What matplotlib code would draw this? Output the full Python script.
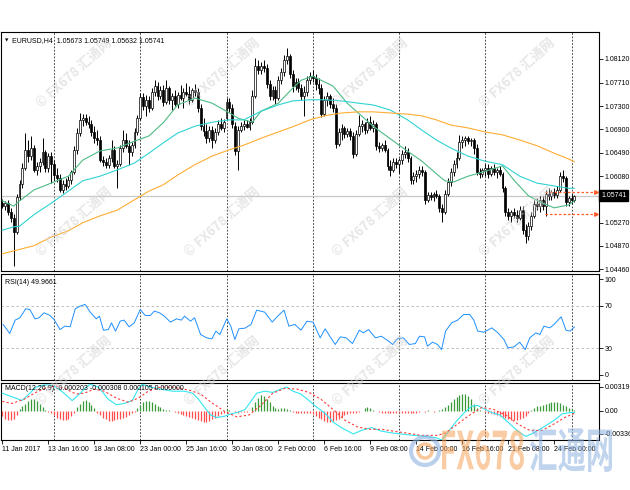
import matplotlib
matplotlib.use('Agg')
import numpy as np
import matplotlib.pyplot as plt
import matplotlib.transforms as mtransforms
from matplotlib.textpath import TextPath
from matplotlib.patches import PathPatch, Circle
from matplotlib.font_manager import FontProperties

plt.rcParams['font.family'] = ['Liberation Sans', 'DejaVu Sans']

# ---------------- data ----------------
opens = [
1.0561,1.0556,1.0561,1.0546,1.0535,1.0511,1.0572,1.0594,1.0622,1.0654,
1.0643,1.0657,1.0619,1.0626,1.0633,1.0650,1.0622,1.0643,1.0629,1.0610,
1.0605,1.0584,1.0594,1.0591,1.0601,1.0615,1.0654,1.0683,1.0706,1.0709,
1.0702,1.0699,1.0685,1.0674,1.0671,1.0636,1.0633,1.0628,1.0640,1.0654,
1.0626,1.0629,1.0657,1.0671,1.0661,1.0650,1.0662,1.0685,1.0709,1.0746,
1.0730,1.0741,1.0727,1.0755,1.0765,1.0748,1.0758,1.0737,1.0761,1.0741,
1.0748,1.0734,1.0749,1.0744,1.0755,1.0751,1.0741,1.0758,1.0755,1.0727,
1.0695,1.0687,1.0674,1.0688,1.0671,1.0685,1.0699,1.0692,1.0709,1.0737,
1.0727,1.0695,1.0652,1.0688,1.0695,1.0699,1.0694,1.0702,1.0748,1.0800,
1.0793,1.0800,1.0796,1.0768,1.0748,1.0758,1.0744,1.0775,1.0789,1.0810,
1.0817,1.0786,1.0765,1.0772,1.0761,1.0748,1.0755,1.0775,1.0782,1.0779,
1.0768,1.0761,1.0716,1.0741,1.0748,1.0734,1.0727,1.0664,1.0685,1.0692,
1.0681,1.0687,1.0678,1.0647,1.0681,1.0695,1.0699,1.0688,1.0702,1.0692,
1.0699,1.0661,1.0657,1.0662,1.0654,1.0626,1.0619,1.0633,1.0629,1.0636,
1.0647,1.0650,1.0640,1.0601,1.0608,1.0612,1.0619,1.0615,1.0567,1.0575,
1.0572,1.0577,1.0574,1.0553,1.0546,1.0577,1.0598,1.0615,1.0629,1.0640,
1.0668,1.0671,1.0674,1.0669,1.0671,1.0657,1.0615,1.0612,1.0619,1.0622,
1.0612,1.0622,1.0615,1.0619,1.0612,1.0587,1.0546,1.0539,1.0546,1.0541,
1.0535,1.0549,1.0514,1.0504,1.0521,1.0539,1.0560,1.0556,1.0567,1.0556,
1.0577,1.0574,1.0581,1.0575,1.0584,1.0608,1.0605,1.0563,1.0570,1.05673]
highs = [
1.0568,1.0565,1.0567,1.0553,1.0542,1.0577,1.0601,1.0631,1.0683,1.0671,
1.0678,1.0662,1.0633,1.0640,1.0674,1.0654,1.0648,1.0650,1.0636,1.0622,
1.0612,1.0601,1.0605,1.0608,1.0619,1.0661,1.0692,1.0718,1.0716,1.0716,
1.0713,1.0706,1.0695,1.0688,1.0678,1.0643,1.0640,1.0645,1.0671,1.0661,
1.0636,1.0662,1.0688,1.0683,1.0671,1.0668,1.0692,1.0714,1.0753,1.0753,
1.0749,1.0748,1.0761,1.0775,1.0772,1.0765,1.0767,1.0775,1.0765,1.0753,
1.0758,1.0755,1.0767,1.0761,1.0770,1.0765,1.0761,1.0768,1.0761,1.0734,
1.0709,1.0699,1.0695,1.0695,1.0692,1.0706,1.0709,1.0708,1.0744,1.0744,
1.0734,1.0702,1.0695,1.0702,1.0706,1.0706,1.0709,1.0758,1.0814,1.0810,
1.0807,1.0810,1.0803,1.0775,1.0765,1.0765,1.0782,1.0796,1.0819,1.0831,
1.0821,1.0793,1.0779,1.0779,1.0768,1.0765,1.0782,1.0789,1.0793,1.0786,
1.0779,1.0768,1.0748,1.0755,1.0751,1.0744,1.0734,1.0692,1.0699,1.0695,
1.0692,1.0692,1.0685,1.0688,1.0714,1.0706,1.0702,1.0709,1.0713,1.0706,
1.0702,1.0668,1.0666,1.0671,1.0657,1.0636,1.0640,1.0640,1.0640,1.0654,
1.0661,1.0657,1.0643,1.0615,1.0619,1.0626,1.0626,1.0619,1.0581,1.0581,
1.0581,1.0584,1.0577,1.0560,1.0584,1.0605,1.0622,1.0636,1.0650,1.0680,
1.0678,1.0678,1.0678,1.0674,1.0674,1.0664,1.0622,1.0622,1.0629,1.0629,
1.0626,1.0629,1.0622,1.0626,1.0615,1.0591,1.0553,1.0549,1.0553,1.0549,
1.0556,1.0556,1.0525,1.0528,1.0546,1.0567,1.0570,1.0574,1.0574,1.0584,
1.0587,1.0584,1.0587,1.0591,1.0615,1.0619,1.0608,1.0574,1.0577,1.05749]
lows = [
1.0553,1.0549,1.0541,1.0528,1.0452,1.0507,1.0567,1.0587,1.0619,1.0633,
1.0636,1.0615,1.0610,1.0615,1.0628,1.0615,1.0615,1.0596,1.0601,1.0598,
1.0581,1.0579,1.0584,1.0587,1.0594,1.0612,1.0647,1.0678,1.0695,1.0697,
1.0692,1.0678,1.0666,1.0662,1.0633,1.0626,1.0622,1.0622,1.0633,1.0622,
1.0587,1.0626,1.0650,1.0657,1.0628,1.0643,1.0657,1.0680,1.0706,1.0723,
1.0713,1.0720,1.0723,1.0748,1.0741,1.0742,1.0730,1.0734,1.0734,1.0723,
1.0730,1.0727,1.0741,1.0727,1.0748,1.0734,1.0737,1.0748,1.0720,1.0688,
1.0678,1.0666,1.0668,1.0657,1.0666,1.0680,1.0688,1.0685,1.0706,1.0720,
1.0692,1.0645,1.0619,1.0685,1.0688,1.0692,1.0688,1.0699,1.0744,1.0786,
1.0786,1.0789,1.0761,1.0741,1.0741,1.0734,1.0741,1.0768,1.0782,1.0803,
1.0779,1.0755,1.0758,1.0755,1.0741,1.0713,1.0748,1.0768,1.0772,1.0758,
1.0751,1.0711,1.0713,1.0730,1.0727,1.0720,1.0657,1.0661,1.0671,1.0674,
1.0676,1.0671,1.0640,1.0643,1.0678,1.0685,1.0681,1.0683,1.0688,1.0685,
1.0654,1.0650,1.0652,1.0650,1.0619,1.0608,1.0615,1.0622,1.0614,1.0629,
1.0640,1.0633,1.0594,1.0594,1.0598,1.0605,1.0608,1.0560,1.0563,1.0567,
1.0565,1.0570,1.0546,1.0528,1.0542,1.0574,1.0591,1.0608,1.0622,1.0636,
1.0657,1.0661,1.0664,1.0661,1.0647,1.0610,1.0605,1.0607,1.0608,1.0605,
1.0608,1.0610,1.0605,1.0608,1.0581,1.0539,1.0532,1.0528,1.0535,1.0528,
1.0532,1.0507,1.0492,1.0497,1.0514,1.0535,1.0549,1.0546,1.0549,1.0539,
1.0567,1.0567,1.0570,1.0570,1.0581,1.0598,1.0556,1.0556,1.0560,1.05632]
closes = [
1.0556,1.0561,1.0546,1.0535,1.0511,1.0572,1.0594,1.0622,1.0654,1.0643,
1.0657,1.0619,1.0626,1.0633,1.0650,1.0622,1.0643,1.0629,1.0610,1.0605,
1.0584,1.0594,1.0591,1.0601,1.0615,1.0654,1.0683,1.0706,1.0709,1.0702,
1.0699,1.0685,1.0674,1.0671,1.0636,1.0633,1.0628,1.0640,1.0654,1.0626,
1.0629,1.0657,1.0671,1.0661,1.0650,1.0662,1.0685,1.0709,1.0746,1.0730,
1.0741,1.0727,1.0755,1.0765,1.0748,1.0758,1.0737,1.0761,1.0741,1.0748,
1.0734,1.0749,1.0744,1.0755,1.0751,1.0741,1.0758,1.0755,1.0727,1.0695,
1.0687,1.0674,1.0688,1.0671,1.0685,1.0699,1.0692,1.0702,1.0737,1.0727,
1.0699,1.0652,1.0688,1.0695,1.0699,1.0694,1.0702,1.0748,1.0800,1.0793,
1.0800,1.0796,1.0768,1.0748,1.0758,1.0744,1.0775,1.0789,1.0810,1.0817,
1.0786,1.0765,1.0772,1.0761,1.0748,1.0755,1.0775,1.0782,1.0779,1.0768,
1.0761,1.0716,1.0741,1.0748,1.0734,1.0727,1.0664,1.0685,1.0692,1.0681,
1.0687,1.0678,1.0647,1.0681,1.0695,1.0699,1.0688,1.0702,1.0692,1.0699,
1.0661,1.0657,1.0662,1.0654,1.0626,1.0619,1.0633,1.0629,1.0636,1.0647,
1.0650,1.0640,1.0601,1.0608,1.0612,1.0619,1.0615,1.0567,1.0575,1.0572,
1.0577,1.0574,1.0553,1.0546,1.0577,1.0598,1.0615,1.0629,1.0640,1.0668,
1.0671,1.0674,1.0669,1.0671,1.0657,1.0615,1.0612,1.0619,1.0622,1.0612,
1.0622,1.0615,1.0619,1.0612,1.0587,1.0546,1.0539,1.0546,1.0541,1.0535,
1.0549,1.0514,1.0504,1.0521,1.0539,1.0560,1.0556,1.0567,1.0556,1.0577,
1.0574,1.0581,1.0575,1.0584,1.0608,1.0605,1.0563,1.0570,1.0567,1.05741]

# moving averages (sampled at bar positions)
ma_fast_x = [0,4,6,11,17,23,28,34,40,46,51,56,61,67,73,78,82,87,90,96,101,104,108,115,120,129,138,146,152,154,157,162,167,174,178,183,188,192,197,199]
ma_fast_y = [1.0565,1.0556,1.0565,1.0584,1.0596,1.0608,1.0636,1.0652,1.0657,1.0669,1.0678,1.0701,1.0732,1.0744,1.0735,1.0721,1.0709,1.0702,1.0721,1.0735,1.0761,1.0775,1.0782,1.0765,1.0735,1.0695,1.0662,1.0634,1.0608,1.0600,1.0598,1.0608,1.0615,1.0626,1.0601,1.0574,1.0561,1.0553,1.0558,1.0565]
ma_mid_x = [0,4,6,11,17,23,28,34,40,46,51,56,61,67,73,79,84,90,96,101,107,112,118,124,129,135,141,146,151,156,162,168,174,180,186,192,197,199]
ma_mid_y = [1.0514,1.0520,1.0521,1.0541,1.0561,1.0582,1.0600,1.0608,1.0619,1.0631,1.0648,1.0666,1.0683,1.0695,1.0702,1.0706,1.0706,1.0721,1.0732,1.0739,1.0741,1.0741,1.0739,1.0735,1.0732,1.0723,1.0706,1.0688,1.0671,1.0657,1.0643,1.0634,1.0628,1.0608,1.0596,1.0591,1.0587,1.0587]
ma_slow_x = [0,11,17,23,28,34,40,46,51,56,61,67,73,79,84,90,96,101,107,112,118,124,129,135,141,146,151,156,162,168,174,180,186,192,197,199]
ma_slow_y = [1.0473,1.0487,1.0502,1.0513,1.0527,1.0539,1.0549,1.0567,1.0582,1.0593,1.0610,1.0628,1.0643,1.0654,1.0662,1.0674,1.0685,1.0694,1.0706,1.0713,1.0718,1.0720,1.0720,1.0718,1.0716,1.0713,1.0706,1.0697,1.0692,1.0685,1.0680,1.0671,1.0661,1.0648,1.0638,1.0633]

level_prices = [1.0580, 1.0542]
bid_price = 1.05741
price_ticks = [1.04460,1.04870,1.05270,1.05680,1.06080,1.06490,1.06900,1.07300,1.07710,1.08120]

rsi_x = [0.3,2.6,4.5,6.1,8.2,9.6,11.4,12.8,14.5,16.6,18.0,20.1,21.8,23.6,25.4,27.1,28.8,30.6,32.7,33.8,
         35.2,36.9,38.0,39.4,41.0,42.4,44.1,45.9,48.0,49.7,51.5,52.9,54.7,56.4,58.5,60.6,62.3,63.4,65.5,66.9,
         69.0,71.1,72.9,74.3,75.7,76.7,78.1,79.5,80.9,82.3,84.4,86.5,88.5,91.3,93.9,95.8,98.0,99.7,101.8,103.9,
         106.0,108.1,110.6,112.3,115.8,117.6,119.6,121.8,124.2,125.6,127.4,129.8,131.9,134.4,135.8,137.4,139.5,141.6,143.7,145.1,
         146.9,147.9,149.7,151.4,152.8,154.2,156.3,158.4,160.5,162.6,164.0,165.4,167.5,170.3,172.4,174.5,175.9,178.0,180.0,181.9,
         183.5,185.6,187.0,188.4,190.5,191.9,194.4,196.1,197.5,199.0]
rsi_v = [52.4,43.9,56.5,58.7,67.2,66.5,57.7,58.7,63.4,60.9,57.1,47.6,50.8,50.2,67.2,69.7,71.3,64.0,57.7,60.2,
         47.0,47.6,53.9,46.1,55.5,56.5,50.2,53.9,66.5,60.9,60.9,65.0,63.4,60.2,54.6,57.7,56.5,60.2,55.5,58.7,
         42.9,39.8,38.8,46.1,42.9,49.2,57.7,50.8,38.2,48.3,48.9,52.4,65.9,64.0,54.6,60.2,65.9,50.8,52.4,47.0,
         55.5,54.6,39.8,48.3,33.5,40.7,39.8,34.4,47.0,44.5,47.6,39.8,41.3,36.6,33.5,38.8,39.8,33.5,34.4,41.3,
         40.7,31.9,35.7,33.5,28.7,46.1,53.9,56.5,61.8,61.8,56.5,46.1,45.1,49.2,44.5,38.2,30.3,31.3,35.7,28.7,
         39.8,44.5,42.9,50.8,49.2,52.4,59.6,47.0,46.1,49.97]

macd_x = [0.0,2.0,4.7,6.8,8.9,11.7,14.5,16.6,18.7,21.5,24.3,26.4,28.5,30.6,33.4,35.2,36.9,39.7,42.4,45.2,
          47.3,48.7,51.5,55.0,59.2,63.4,66.2,68.3,70.4,72.5,74.6,77.4,79.5,81.6,84.4,86.5,88.5,91.3,94.1,96.9,
          99.0,101.1,103.9,106.7,109.5,112.3,115.1,117.9,122.1,124.9,128.4,131.9,135.3,138.8,143.0,147.2,150.7,152.8,154.9,157.7,
          160.5,163.3,165.4,167.5,170.3,173.1,175.9,179.3,182.1,184.9,188.4,191.9,194.7,197.5,199.0]
macd_v = [0.00202,0.00178,0.00145,0.00117,0.00178,0.00272,0.00296,0.00296,0.00272,0.00202,0.00117,0.00178,0.00249,0.00305,0.00272,0.00202,0.00131,0.00070,0.00084,0.00117,
          0.00249,0.00305,0.00272,0.00249,0.00225,0.00225,0.00202,0.00131,0.00038,-0.00049,-0.00078,-0.00062,-0.00037,-0.00021,0.00014,0.00108,0.00202,0.00225,0.00211,0.00249,
          0.00272,0.00225,0.00192,0.00117,0.00038,-0.00029,-0.00131,-0.00193,-0.00267,-0.00226,-0.00193,-0.00234,-0.00254,-0.00267,-0.00283,-0.00295,-0.00308,-0.00336,-0.00254,-0.00131,
          -0.00029,0.00052,0.00061,0.00023,-0.00021,-0.00049,-0.00131,-0.00234,-0.00295,-0.00254,-0.00185,-0.00111,-0.00037,-0.00021,-0.000203]
signal_x = [0.0,3.3,7.5,11.7,15.9,18.7,22.2,25.7,28.5,32.0,35.5,39.7,43.8,47.3,50.8,55.0,59.2,64.8,69.0,73.2,
            77.4,81.6,85.8,89.9,94.1,98.3,102.5,106.7,110.9,115.1,119.3,123.5,127.7,131.9,136.0,140.2,145.8,151.4,154.2,158.4,
            162.6,166.8,171.0,175.2,179.3,183.5,187.7,191.9,196.1,199.0]
signal_v = [0.00108,0.00084,0.00131,0.00211,0.00272,0.00286,0.00249,0.00192,0.00202,0.00249,0.00225,0.00145,0.00098,0.00145,0.00225,0.00272,0.00272,0.00239,0.00192,0.00084,
            -0.00008,-0.00070,-0.00049,0.00061,0.00202,0.00258,0.00249,0.00211,0.00131,0.00014,-0.00111,-0.00185,-0.00213,-0.00213,-0.00234,-0.00254,-0.00283,-0.00283,-0.00254,-0.00152,
            -0.00049,0.00038,0.00014,-0.00049,-0.00152,-0.00226,-0.00226,-0.00152,-0.00070,-0.000308]
hist = [
-0.0006,-0.0010,-0.0011,-0.0011,-0.0009,-0.0005,
0.0002,0.0005,0.0008,0.0011,0.0013,0.0013,0.0011,0.0008,0.0004,
0.0001,-0.0001,-0.0003,
-0.0005,-0.0008,-0.0010,-0.0011,-0.0011,-0.0009,-0.0006,-0.0002,
0.0004,0.0008,0.0011,0.0012,0.0010,0.0007,0.0003,
-0.0002,-0.0005,-0.0008,-0.0010,-0.0012,-0.0012,-0.0011,-0.0010,-0.0009,-0.0008,-0.0007,-0.0005,-0.0003,-0.0001,
0.0003,0.0007,0.0010,0.0011,0.0011,0.0010,0.0008,0.0006,0.0004,
0.0002,0.0001,0.0001,0.0000,-0.0001,
-0.0002,-0.0004,-0.0005,-0.0006,-0.0007,-0.0008,-0.0009,-0.0011,-0.0012,-0.0013,-0.0013,-0.0012,-0.0010,-0.0008,-0.0006,-0.0004,-0.0002,
0.0002,0.0001,0.0000,
-0.0001,-0.0002,-0.0001,-0.0001,-0.0001,0.0000,
0.0004,0.0010,0.0015,0.0018,0.0017,0.0014,0.0010,0.0006,
0.0003,0.0002,0.0003,0.0003,0.0002,0.0001,
-0.0001,-0.0002,-0.0002,-0.0003,-0.0003,-0.0002,-0.0003,-0.0004,
-0.0006,-0.0008,-0.0010,-0.0012,-0.0013,-0.0013,-0.0012,-0.0011,-0.0009,-0.0007,-0.0005,-0.0004,
-0.0003,-0.0002,-0.0002,-0.0001,0.0000,
0.0003,0.0004,0.0003,0.0001,0.0000,
-0.0001,-0.0002,-0.0002,-0.0003,-0.0003,-0.0002,-0.0002,-0.0001,-0.0002,-0.0003,-0.0002,-0.0002,-0.0003,-0.0002,-0.0001,
0.0000,-0.0001,0.0001,0.0000,-0.0001,0.0000,0.0001,0.0002,0.0004,
0.0007,0.0010,0.0013,0.0016,0.0018,0.0019,0.0019,0.0017,0.0013,0.0008,
0.0003,0.0001,0.0000,-0.0001,
-0.0002,-0.0003,-0.0004,-0.0005,-0.0006,-0.0007,-0.0008,-0.0010,-0.0011,-0.0011,-0.0011,-0.0010,-0.0008,-0.0006,-0.0003,
0.0001,0.0003,0.0005,0.0006,0.0007,0.0008,0.0009,0.0010,0.0010,0.0010,0.0009,0.0007,0.0005,
0.0003,0.0002,0.000105]

week_lines = [18, 48, 78, 108, 138, 168, 198]
xtick_bars = [0,16,32,48,64,80,96,112,128,144,160,176,192]
xtick_labels = ['11 Jan 2017','13 Jan 16:00','18 Jan 08:00','23 Jan 00:00','25 Jan 16:00','30 Jan 08:00',
                '2 Feb 00:00','6 Feb 16:00','9 Feb 08:00','14 Feb 00:00','16 Feb 16:00','21 Feb 08:00','24 Feb 00:00']
header = 'EURUSD,H4  1.05673 1.05749 1.05632 1.05741'
rsi_title = 'RSI(14) 49.9661'
macd_title = 'MACD(12,26,9) -0.000203 -0.000308 0.000105 0.000000'

# ---------------- figure ----------------
W, H = 630, 490
fig = plt.figure(figsize=(6.3, 4.9), dpi=100)
fig.patch.set_facecolor('white')

def ax_px(l, t, r, b):
    return fig.add_axes([l / W, 1 - b / H, (r - l) / W, (b - t) / H])

ax = ax_px(1, 32, 599, 271)
axr = ax_px(1, 274, 599, 380)
axm = ax_px(1, 383, 599, 440)

XL = (1 - 2.25) / 2.875
XR = (599 - 2.25) / 2.875
FS = 5.0

for a in (ax, axr, axm):
    a.set_xlim(XL, XR)
    for s in a.spines.values():
        s.set_linewidth(0.8)
        s.set_color('black')
    a.tick_params(axis='x', bottom=False, labelbottom=False)
    a.yaxis.tick_right()
    a.tick_params(axis='y', direction='out', length=3, width=0.6, pad=1.2, labelsize=FS, colors='black')
    for wl in week_lines:
        a.axvline(wl, color='#222222', lw=0.6, ls=(0, (2, 2)), zorder=1)

# main candles
o = np.array(opens); h = np.array(highs); l = np.array(lows); c = np.array(closes)
x = np.arange(len(c))
up = c >= o
ax.axhline(bid_price, color='#c8c8c8', lw=0.9, zorder=1)
ax.vlines(x, l, h, color='black', lw=0.7, zorder=3)
ax.bar(x[up], (c - o)[up], bottom=o[up], width=0.62, color='white', edgecolor='black', linewidth=0.5, zorder=4)
ax.bar(x[~up], (o - c)[~up], bottom=c[~up], width=0.62, color='black', edgecolor='black', linewidth=0.5, zorder=4)
ax.plot(ma_fast_x, ma_fast_y, color='#4cbb85', lw=0.8, zorder=5)
ax.plot(ma_mid_x, ma_mid_y, color='#2fd3d3', lw=0.8, zorder=5)
ax.plot(ma_slow_x, ma_slow_y, color='#ffad33', lw=0.8, zorder=5)
for lp in level_prices:
    ax.plot([188.8, 206.6], [lp, lp], color='#ff5a28', lw=0.9, ls=(0, (2, 1.6)), zorder=6)
    ax.plot([206.6], [lp], marker='>', ms=2.5, color='#ff5a28', zorder=6)

ax.set_ylim(1.09146 - 0.000174 * 271, 1.09146 - 0.000174 * 32)
ax.set_yticks(price_ticks)
ax.set_yticklabels(['%.5f' % p for p in price_ticks])
ax.text(1 + 2 / 598, bid_price, '%.5f' % bid_price, transform=ax.get_yaxis_transform(), color='white',
        fontsize=FS, va='center', ha='left', zorder=10,
        bbox=dict(boxstyle='square,pad=0.25', fc='black', ec='black'))

fig.text(5 / W, 1 - 41 / H, '\u25BC', fontsize=3.2, family='DejaVu Sans', va='center', ha='left')
fig.text(12.5 / W, 1 - 41 / H, header, fontsize=FS, va='center', ha='left')

# RSI
axr.set_ylim(0, 100)
for lv in (70, 30):
    axr.axhline(lv, color='#b4b4b4', lw=0.6, ls=(0, (3, 3)), zorder=1)
axr.plot(rsi_x, rsi_v, color='#1e90ff', lw=0.7, zorder=4)
axr.set_yticks([95, 70, 30, 5])
axr.set_yticklabels(['100', '70', '30', '0'])
fig.text(5 / W, 1 - 282 / H, rsi_title, fontsize=FS, va='center', ha='left')

# MACD
axm.set_ylim(-0.003361, 0.003192)
hv = np.array(hist)
hx = np.arange(len(hv))
pos = hv > 0
neg = hv < 0
axm.vlines(hx[pos], 0, hv[pos], color='#3a9a3a', lw=0.9, zorder=3)
axm.vlines(hx[neg], hv[neg], 0, color='#ff4d4d', lw=0.9, zorder=3)
axm.plot(macd_x, macd_v, color='#33e6f0', lw=0.8, zorder=4)
axm.plot(signal_x, signal_v, color='#ff3b3b', lw=0.8, ls=(0, (2, 2)), zorder=4)
axm.set_yticks([0.00277, 0.0, -0.00267])
axm.set_yticklabels(['0.003192', '0.00', '-0.003361'])
fig.text(5 / W, 1 - 388 / H, macd_title, fontsize=FS, va='center', ha='left')

axm.set_xticks(xtick_bars)
axm.set_xticklabels(xtick_labels)
axm.tick_params(axis='x', bottom=True, labelbottom=True, direction='out', length=3, width=0.6, pad=1.5,
                labelsize=FS)
for lab in axm.get_xticklabels():
    lab.set_ha('left')

# watermarks
wm_font = ['Noto Sans CJK SC', 'DejaVu Sans']
for wy in (73, 222, 371):
    for wx in (74, 222, 370, 517):
        fig.text(wx / W, 1 - wy / H, '\u00a9 FX678 汇通网', fontsize=9.5, family=wm_font, weight='bold',
                 color='#cfcfcf', alpha=0.5, rotation=42, rotation_mode='anchor', ha='center', va='center',
                 zorder=20)

# big logo bottom-right
def logo_text(s, color, x0, x1, ytop, ybot, alpha):
    fp = FontProperties(family='Noto Sans CJK SC', weight='bold')
    tp = TextPath((0, 0), s, size=10, prop=fp)
    bb = tp.get_extents()
    sx = (x1 - x0) / bb.width
    sy = (ybot - ytop) / bb.height
    tr = mtransforms.Affine2D().translate(-bb.x0, -bb.y0).scale(sx, sy).translate(x0, H - ybot)
    fig.add_artist(PathPatch(tp, transform=tr, fc=color, ec='none', alpha=alpha, zorder=0.5))

logo_text('FX678', '#f6a25a', 442, 524, 430, 470, 0.55)
logo_text('汇通网', '#8fb2e0', 530, 612, 428, 472, 0.55)
fig.add_artist(Circle((425, H - 451), 14, transform=mtransforms.IdentityTransform(), fc='none',
                      ec='#8fb2e0', lw=3, alpha=0.6, zorder=0.5))
fig.add_artist(Circle((425, H - 451), 7, transform=mtransforms.IdentityTransform(), fc='none',
                      ec='#f6a25a', lw=2.5, alpha=0.6, zorder=0.5))

fig.savefig('out.png', dpi=100, facecolor='white')
